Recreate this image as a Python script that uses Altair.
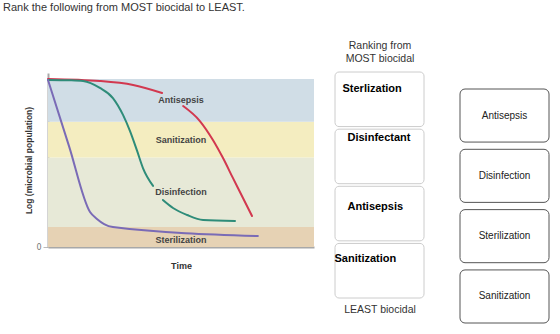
import altair as alt
import pandas as pd

FONT = "Liberation Sans"

# ---------------- chart data ----------------
band_names = ["Sterilization", "Disinfection", "Sanitization", "Antisepsis"]
band_lo = [0.0, 1.15, 5.15, 7.2]
band_hi = [1.15, 5.15, 7.2, 9.65]
band_colors = ["#e6d2b4", "#e7e9d7", "#f4edc0", "#d0dde6"]
label_t = [5.0, 5.0, 5.0, 5.0]
label_v = [0.4, 3.16, 6.15, 8.45]

red_t = [0, 1.95, 3.20, 4.29, 5.08, 5.71, 6.20, 6.58, 6.95, 7.33, 7.67]
red_v = [9.66, 9.54, 9.31, 8.85, 8.10, 7.24, 6.15, 5.11, 3.97, 2.82, 1.78]
red_seg = [1, 1, 1, 1, 2, 2, 2, 2, 2, 2, 2]

green_t = [0, 0.83, 1.32, 1.95, 2.44, 2.82, 3.08, 3.35, 3.57, 3.95, 4.32, 4.70, 5.23, 5.83, 7.03]
green_v = [9.60, 9.58, 9.54, 9.14, 8.56, 7.59, 6.67, 5.52, 4.54, 3.51, 2.70, 2.24, 1.84, 1.55, 1.49]
green_seg = [1, 1, 1, 1, 1, 1, 1, 1, 1, 1, 2, 2, 2, 2, 2]

purple_t = [0, 0.79, 1.58, 1.84, 2.11, 2.44, 7.89]
purple_v = [9.60, 5.80, 2.01, 1.61, 1.32, 1.15, 0.63]

# ---------------- ranking panel data ----------------
slot_rank = [1, 2, 3, 4]
answer_text = ["Sterlization", "Disinfectant", "Antisepsis", "Sanitization"]
card_rank = [1, 2, 3, 4]
card_text = ["Antisepsis", "Disinfection", "Sterilization", "Sanitization"]

# ---------------- tables ----------------
bands = pd.DataFrame({"name": band_names, "lo": band_lo, "hi": band_hi,
                      "t0": [0] * 4, "t1": [10] * 4, "lt": label_t, "lv": label_v})

rows = []
for s, ts, vs, segs in [("Antisepsis", red_t, red_v, red_seg),
                        ("Disinfection", green_t, green_v, green_seg),
                        ("Sterilization", purple_t, purple_v, [1] * len(purple_t))]:
    for t, v, g in zip(ts, vs, segs):
        rows.append({"series": s, "seg": f"{s}-{g}", "t": t, "v": v})
curves = pd.DataFrame(rows)

XS = alt.Scale(domain=[0, 10], range=[48, 314], nice=False)
YS = alt.Scale(domain=[0, 10], range=[247, 73], nice=False)

x_axis = alt.Axis(offset=-87, labels=False, ticks=False, grid=False,
                  domainColor="#a8a8a8", domainWidth=2, title="Time",
                  titleFontSize=9, titleFontWeight="bold", titleColor="#333",
                  titlePadding=14)
y_axis = alt.Axis(offset=-48, values=[0], grid=False, domainColor="#a8a8a8",
                  domainWidth=2, tickColor="#bbbbbb", tickSize=5,
                  labelColor="#777", labelFontSize=8, labelPadding=2,
                  labelFont="DejaVu Sans",
                  title="Log (microbial population)", titleFontSize=8.5,
                  titleFontWeight="bold", titleColor="#333",
                  titleX=-20, titleY=160, titleAngle=270,
                  titleBaseline="middle", titleAlign="center")

band_layer = alt.Chart(bands).mark_rect().encode(
    x=alt.X("t0:Q", scale=XS, axis=x_axis),
    x2="t1",
    y=alt.Y("lo:Q", scale=YS, axis=y_axis),
    y2="hi",
    color=alt.Color("name:N", scale=alt.Scale(domain=band_names, range=band_colors),
                    legend=None),
)

line_layer = alt.Chart(curves).mark_line(interpolate="monotone", strokeWidth=2,
                                          strokeCap="round").encode(
    x=alt.X("t:Q", scale=XS),
    y=alt.Y("v:Q", scale=YS),
    stroke=alt.Stroke("series:N",
                      scale=alt.Scale(domain=["Antisepsis", "Disinfection", "Sterilization"],
                                      range=["#d2384f", "#2e8c79", "#7a6bb6"]),
                      legend=None),
    detail="seg:N",
)

label_layer = alt.Chart(bands).mark_text(fontSize=9, fontWeight="bold",
                                          color="#444", baseline="middle").encode(
    x=alt.X("lt:Q", scale=XS),
    y=alt.Y("lv:Q", scale=YS),
    text="name:N",
)

main = alt.layer(band_layer, line_layer, label_layer)

# ---------------- ranking slots ----------------
slots = pd.DataFrame({"rank": slot_rank, "answer": answer_text, "col": ["slot"] * 4})
SX = alt.Scale(range=[335, 424], paddingInner=0, paddingOuter=0)
SY = alt.Scale(range=[72, 298], paddingInner=0.045, paddingOuter=0)

slot_boxes = alt.Chart(slots).mark_rect(fill="white", stroke="#cccccc",
                                         strokeWidth=1, cornerRadius=4).encode(
    x=alt.X("col:N", scale=SX, axis=None),
    y=alt.Y("rank:O", scale=SY, axis=None),
)

answer_offsets = [(-37, -10), (-32, -18), (-32, -7), (-45, -12)]
answer_layers = []
for r, (dx, dy) in zip(slot_rank, answer_offsets):
    answer_layers.append(
        alt.Chart(slots).transform_filter(alt.datum.rank == r).mark_text(
            align="left", baseline="middle", fontSize=11, fontWeight="bold",
            color="#000", dx=dx, dy=dy).encode(
            x=alt.X("col:N", scale=SX, axis=None),
            y=alt.Y("rank:O", scale=SY, axis=None),
            text="answer:N")
    )
slots_panel = alt.layer(slot_boxes, *answer_layers)

# ---------------- cards ----------------
cards = pd.DataFrame({"rank": card_rank, "label": card_text, "col": ["card"] * 4})
CX = alt.Scale(range=[460, 549], paddingInner=0, paddingOuter=0)
CY = alt.Scale(range=[89, 323], paddingInner=0.12, paddingOuter=0)

card_boxes = alt.Chart(cards).mark_rect(fill="white", stroke="#555555",
                                         strokeWidth=1, cornerRadius=5).encode(
    x=alt.X("col:N", scale=CX, axis=None),
    y=alt.Y("rank:O", scale=CY, axis=None),
)
card_labels = alt.Chart(cards).mark_text(fontSize=10, color="#222",
                                          baseline="middle").encode(
    x=alt.X("col:N", scale=CX, axis=None),
    y=alt.Y("rank:O", scale=CY, axis=None),
    text="label:N",
)
cards_panel = alt.layer(card_boxes, card_labels)

# ---------------- headings ----------------
one = pd.DataFrame({"k": [0]})
prompt = alt.Chart(one).mark_text(
    text="Rank the following from MOST biocidal to LEAST.", align="left",
    baseline="middle", fontSize=11, color="#333").encode(
    x=alt.value(3), y=alt.value(8))
top_head = alt.Chart(one).mark_text(
    text=["Ranking from", "MOST biocidal"], align="center", baseline="middle",
    fontSize=10.5, lineHeight=13, color="#333").encode(
    x=alt.value(380), y=alt.value(46))
bottom_head = alt.Chart(one).mark_text(
    text="LEAST biocidal", align="center", baseline="middle",
    fontSize=10.5, color="#333").encode(
    x=alt.value(380), y=alt.value(310))

chart = alt.layer(
    main, slots_panel, cards_panel, prompt, top_head, bottom_head
).resolve_scale(
    x="independent", y="independent", color="independent", stroke="independent"
).properties(
    width=560, height=334, padding=0, autosize="none"
).configure(font=FONT).configure_view(stroke=None)

chart.save("out.html", embed_options={"renderer": "svg", "actions": False})
